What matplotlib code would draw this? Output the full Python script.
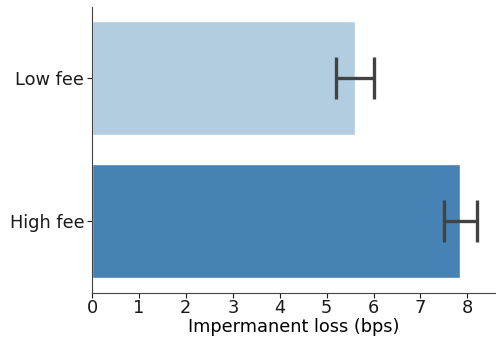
import matplotlib
matplotlib.use("Agg")
import matplotlib.pyplot as plt
import numpy as np

categories = ["Low fee", "High fee"]
means = [5.6, 7.85]
ci_low = [5.2, 7.5]
ci_high = [6.0, 8.2]
colors = ["#b3cde0", "#4682b4"]

fig = plt.figure(figsize=(4.96, 3.38), dpi=100)
ax = fig.add_axes([92/496, 1-292.5/338, 1-92/496, (292.5-7)/338])

y = np.arange(len(categories))
ax.barh(y, means, height=0.8, color=colors, edgecolor="white", linewidth=1)
xerr = np.array([[m - l for m, l in zip(means, ci_low)],
                 [h - m for m, h in zip(means, ci_high)]])
ax.errorbar(means, y, xerr=xerr, fmt="none", ecolor="#424242",
            elinewidth=2.4, capsize=15, capthick=2.4)

ax.set_yticks(y)
ax.set_yticklabels(categories)
ax.set_ylim(1.5, -0.5)
ax.set_xlim(0, 8.61)
ax.set_xticks(range(0, 9))
ax.tick_params(labelsize=12.8, colors="#1a1a1a", length=3.5, pad=2)
ax.tick_params(axis="x", pad=1.5)
ax.set_xlabel("Impermanent loss (bps)", fontsize=12.8, labelpad=0.3)
for s in ["top", "right"]:
    ax.spines[s].set_visible(False)
for s in ["left", "bottom"]:
    ax.spines[s].set_color("#444444")

fig.savefig("out.png", dpi=100)
